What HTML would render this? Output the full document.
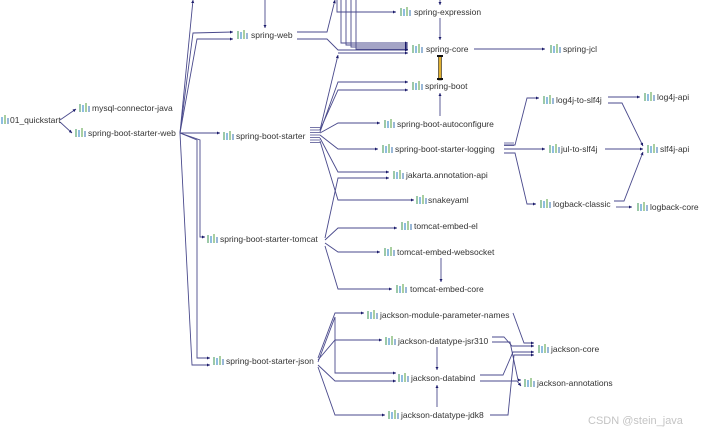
<!DOCTYPE html>
<html><head><meta charset="utf-8"><style>
html,body{margin:0;padding:0;background:#fff;width:712px;height:432px;overflow:hidden}
svg{display:block}
text{font-family:"Liberation Sans",sans-serif;font-size:8.5px;fill:#333}
.e{fill:none;stroke:#4a4a8c;stroke-width:0.9}
</style></head><body>
<svg width="712" height="432" viewBox="0 0 712 432" xmlns="http://www.w3.org/2000/svg">
<defs>
<marker id="a" viewBox="0 0 6 6" refX="6" refY="3" markerWidth="3.5" markerHeight="3.5" orient="auto"><path d="M0,0L6,3L0,6z" fill="#1a1a6a"/></marker>
<g id="i"><rect x="0" y="-4" width="2" height="8" fill="#9cc9a8"/><rect x="3" y="-3" width="2" height="7" fill="#8fbde0"/><rect x="6" y="-5" width="2" height="9" fill="#a9cfa0"/><rect x="9" y="-2" width="2" height="6" fill="#9ab8d8"/></g>
</defs>
<g class="e" marker-end="url(#a)">
<path d="M60,120 L76,109"/>
<path d="M60,122 L72,133"/>
<path d="M180,133 L193,33 L233,32"/>
<path d="M180,133 L197,39 L233,39"/>
<path d="M180,133 L193,0"/>
<path d="M180,133 L220,133"/>
<path d="M180,133 L200,140 L200,237 L205,237"/>
<path d="M180,133 L197,140 L197,358 L210,358"/>
<path d="M180,133 L192,365 L210,365"/>
<path d="M265,0 L265,28"/>
<path d="M297,32 L327,32 L335,0"/>
<path d="M297,39 L327,39 L338,50 L408,50"/>
<path d="M337,0 L337,12 L396,12"/>
<path d="M341,0 L341,43 L408,43"/>
<path d="M346,0 L346,45 L408,45"/>
<path d="M351,0 L351,47 L408,47"/>
<path d="M356,0 L356,49 L408,49"/>
<path d="M338,53 L408,53"/>
<path d="M440,0 L440,5"/>
<path d="M440,18 L440,40"/>
<path d="M474,49 L545,49"/>
<path d="M320,130 L338,55"/>
<path d="M320,132 L338,82 L408,82"/>
<path d="M320,130 L338,90 L408,90"/>
<path d="M320,133 L338,123 L380,123"/>
<path d="M320,135 L338,149 L378,149"/>
<path d="M320,138 L338,172 L389,172"/>
<path d="M320,141 L338,200 L414,200"/>
<path d="M440,116 L440,93"/>
<path d="M325,238 L338,178 L389,178"/>
<path d="M325,240 L338,228 L397,228"/>
<path d="M325,243 L338,252 L380,252"/>
<path d="M325,246 L338,289 L392,289"/>
<path d="M441,258 L441,282"/>
<path d="M504,145 L515,145 L527,98 L539,98"/>
<path d="M504,149 L545,149"/>
<path d="M504,153 L515,153 L527,204 L536,204"/>
<path d="M608,97 L640,97"/>
<path d="M608,103 L622,103 L643,146"/>
<path d="M605,149 L643,149"/>
<path d="M614,201 L624,201 L643,152"/>
<path d="M616,207 L632,207"/>
<path d="M318,358 L335,313 L364,313"/>
<path d="M318,360 L335,340 L382,340"/>
<path d="M318,362 L335,317 L335,373 L396,373"/>
<path d="M318,365 L335,381 L396,381"/>
<path d="M318,367 L335,415 L385,415"/>
<path d="M513,313 L524,343 L534,343"/>
<path d="M492,337 L504,337 L512,346 L534,346"/>
<path d="M492,342 L510,342 L518,380 L521,380"/>
<path d="M480,375 L503,375 L513,352 L534,352"/>
<path d="M480,381 L517,381 L521,386"/>
<path d="M490,415 L508,415 L514,355 L534,355"/>
<path d="M437,347 L437,370"/>
<path d="M437,407 L437,385"/>
</g>
<rect x="438.5" y="56" width="3" height="24" fill="#e0b030" stroke="#222" stroke-width="0.6"/>
<rect x="437" y="55" width="6" height="2" fill="#111"/><rect x="437" y="78" width="6" height="2" fill="#111"/>
<g stroke="#4a4a8c" stroke-width="0.7"><path d="M310,127.5H320M310,130H320M310,132.5H320M310,135H320M310,137.5H320M310,140H320M310,142.5H320"/></g>
<g stroke="#4a4a8c" stroke-width="0.7"><path d="M504,143H514M504,145.5H514"/></g>
<g>
<use href="#i" x="-2" y="120"/><text x="10" y="123">01_quickstart</text>
<use href="#i" x="79" y="108"/><text x="92" y="111">mysql-connector-java</text>
<use href="#i" x="75" y="133"/><text x="88" y="136">spring-boot-starter-web</text>
<use href="#i" x="237" y="35"/><text x="251" y="38">spring-web</text>
<use href="#i" x="223" y="136"/><text x="236" y="139">spring-boot-starter</text>
<use href="#i" x="207" y="239"/><text x="220" y="242">spring-boot-starter-tomcat</text>
<use href="#i" x="213" y="361"/><text x="226" y="364">spring-boot-starter-json</text>
<use href="#i" x="400" y="12"/><text x="414" y="15">spring-expression</text>
<use href="#i" x="412" y="49"/><text x="426" y="52">spring-core</text>
<use href="#i" x="550" y="49"/><text x="563" y="52">spring-jcl</text>
<use href="#i" x="412" y="86"/><text x="425" y="89">spring-boot</text>
<use href="#i" x="384" y="124"/><text x="397" y="127">spring-boot-autoconfigure</text>
<use href="#i" x="382" y="149"/><text x="395" y="152">spring-boot-starter-logging</text>
<use href="#i" x="393" y="175"/><text x="406" y="178">jakarta.annotation-api</text>
<use href="#i" x="416" y="200"/><text x="428" y="203">snakeyaml</text>
<use href="#i" x="401" y="226"/><text x="414" y="229">tomcat-embed-el</text>
<use href="#i" x="384" y="252"/><text x="397" y="255">tomcat-embed-websocket</text>
<use href="#i" x="396" y="289"/><text x="410" y="292">tomcat-embed-core</text>
<use href="#i" x="543" y="100"/><text x="556" y="103">log4j-to-slf4j</text>
<use href="#i" x="644" y="97"/><text x="657" y="100">log4j-api</text>
<use href="#i" x="549" y="149"/><text x="561" y="152">jul-to-slf4j</text>
<use href="#i" x="647" y="149"/><text x="660" y="152">slf4j-api</text>
<use href="#i" x="540" y="204"/><text x="553" y="207">logback-classic</text>
<use href="#i" x="637" y="207"/><text x="650" y="210">logback-core</text>
<use href="#i" x="367" y="315"/><text x="380" y="318">jackson-module-parameter-names</text>
<use href="#i" x="385" y="341"/><text x="398" y="344">jackson-datatype-jsr310</text>
<use href="#i" x="398" y="378"/><text x="411" y="381">jackson-databind</text>
<use href="#i" x="388" y="415"/><text x="401" y="418">jackson-datatype-jdk8</text>
<use href="#i" x="538" y="349"/><text x="551" y="352">jackson-core</text>
<use href="#i" x="524" y="383"/><text x="537" y="386">jackson-annotations</text>
</g>
<text x="588" y="424" style="font-size:11px;fill:#c4c4c4">CSDN @stein_java</text>
</svg>
</body></html>
